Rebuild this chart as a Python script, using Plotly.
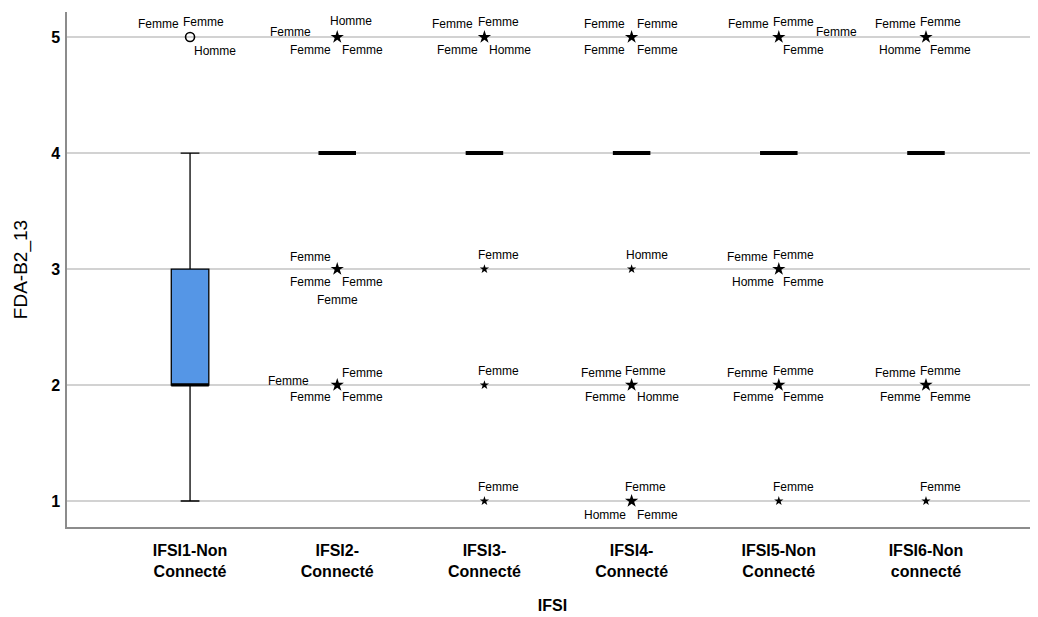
import plotly.graph_objects as go

# groups on the x axis
categories = ["IFSI1-Non<br>Connecté", "IFSI2-<br>Connecté", "IFSI3-<br>Connecté",
              "IFSI4-<br>Connecté", "IFSI5-Non<br>Connecté", "IFSI6-Non<br>connecté"]

# box statistics per group
q1 = [2, 4, 4, 4, 4, 4]
median = [2, 4, 4, 4, 4, 4]
q3 = [3, 4, 4, 4, 4, 4]
lower = [1, 4, 4, 4, 4, 4]
upper = [4, 4, 4, 4, 4, 4]

# outliers (group index, value, number of cases)
out_group = [0, 1, 2, 3, 4, 5, 1, 2, 3, 4, 1, 2, 3, 4, 5, 2, 3, 4, 5]
out_value = [5, 5, 5, 5, 5, 5, 3, 3, 3, 3, 2, 2, 2, 2, 2, 1, 1, 1, 1]
out_n = [3, 4, 4, 4, 4, 4, 4, 1, 1, 4, 4, 1, 4, 4, 4, 1, 3, 1, 1]
out_extreme = [False] + [True] * 18

# case labels next to the outliers
lab_group = [0, 0, 0,
             1, 1, 1, 1,
             2, 2, 2, 2,
             3, 3, 3, 3,
             4, 4, 4, 4,
             5, 5, 5, 5,
             1, 1, 1, 1, 2, 3, 4, 4, 4, 4,
             1, 1, 1, 1, 2, 3, 3, 3, 3, 4, 4, 4, 4, 5, 5, 5, 5,
             2, 3, 3, 3, 4, 5]
lab_value = [5, 5, 5,
             5, 5, 5, 5,
             5, 5, 5, 5,
             5, 5, 5, 5,
             5, 5, 5, 5,
             5, 5, 5, 5,
             3, 3, 3, 3, 3, 3, 3, 3, 3, 3,
             2, 2, 2, 2, 2, 2, 2, 2, 2, 2, 2, 2, 2, 2, 2, 2, 2,
             1, 1, 1, 1, 1, 1]
lab_text = ["Femme", "Femme", "Homme",
            "Homme", "Femme", "Femme", "Femme",
            "Femme", "Femme", "Femme", "Homme",
            "Femme", "Femme", "Femme", "Femme",
            "Femme", "Femme", "Femme", "Femme",
            "Femme", "Femme", "Homme", "Femme",
            "Femme", "Femme", "Femme", "Femme", "Femme", "Homme", "Femme", "Femme", "Homme", "Femme",
            "Femme", "Femme", "Femme", "Femme", "Femme",
            "Femme", "Femme", "Femme", "Homme",
            "Femme", "Femme", "Femme", "Femme",
            "Femme", "Femme", "Femme", "Femme",
            "Femme", "Femme", "Homme", "Femme", "Femme", "Femme"]

# pixel offsets of each label centre from its point
lab_dx = [-32, 13, 25,
          14, -47, -27, 25,
          -32, 14, -27, 26,
          -27, 26, -27, 26,
          -30, 15, 58, 25,
          -30, 15, -26, 25,
          -27, -27, 25, 0, 14, 15, -31, 15, -26, 25,
          -49, 25, -27, 25, 14, -30, 14, -26, 26, -31, 15, -25, 25, -30, 15, -25, 25,
          14, 14, -27, 26, 15, 15]
lab_dy = [-13, -15, 14,
          -16, -5, 13, 13,
          -13, -15, 13, 13,
          -13, -13, 13, 13,
          -13, -15, -5, 13,
          -13, -15, 13, 13,
          -12, 13, 13, 31, -14, -14, -12, -14, 13, 13,
          -4, -12, 12, 12, -14, -12, -14, 12, 12, -12, -14, 12, 12, -12, -14, 12, 12,
          -14, -14, 14, 14, -14, -14]

fig = go.Figure()

for i, cat in enumerate(categories):
    flat = q1[i] == q3[i]
    fig.add_trace(go.Box(x=[cat], q1=[q1[i]], median=[median[i]], q3=[q3[i]],
                         lowerfence=[lower[i]], upperfence=[upper[i]],
                         width=0.255, whiskerwidth=0.5, boxpoints=False,
                         fillcolor="#5596E6" if not flat else "black",
                         line=dict(color="black", width=4 if flat else 1.3),
                         hoverinfo="skip", showlegend=False))
    # thick median line on the non flat box
    if not flat:
        fig.add_trace(go.Box(x=[cat], q1=[median[i]], median=[median[i]], q3=[median[i]],
                             lowerfence=[median[i]], upperfence=[median[i]],
                             width=0.255, boxpoints=False, fillcolor="black",
                             line=dict(color="black", width=3),
                             hoverinfo="skip", showlegend=False))

# outlier markers
for g, v, n, ext in zip(out_group, out_value, out_n, out_extreme):
    if ext:
        marker = dict(symbol="star", size=10 if n > 1 else 7, color="black",
                      line=dict(width=0))
    else:
        marker = dict(symbol="circle-open", size=9, color="black",
                      line=dict(width=1.6, color="black"))
    fig.add_trace(go.Scatter(x=[categories[g]], y=[v], mode="markers",
                             marker=marker, showlegend=False, hoverinfo="skip"))

for g, v, t, dx, dy in zip(lab_group, lab_value, lab_text, lab_dx, lab_dy):
    fig.add_annotation(x=categories[g], y=v, text=t, showarrow=False,
                       xshift=dx, yshift=-dy,
                       font=dict(family="Liberation Sans, Arial", size=12, color="black"))

# the page adds an 8px body margin, so the figure is sized to fit inside it
fig.update_layout(
    width=1030, height=609,
    margin=dict(l=59, r=0, t=4, b=90),
    plot_bgcolor="white", paper_bgcolor="white",
    font=dict(family="Liberation Sans, Arial", color="black"),
    boxmode="overlay",
)
fig.update_xaxes(type="category", categoryorder="array", categoryarray=categories,
                 range=[-0.836, 5.761], showgrid=False, zeroline=False, automargin=False,
                 showline=True, linecolor="#8c8c8c", linewidth=1.5, ticks="",
                 ticklabelstandoff=8,
                 tickfont=dict(size=16, weight="bold", color="black"),
                 title=dict(text="IFSI", standoff=21,
                            font=dict(size=16, weight="bold", color="black")))
fig.update_yaxes(range=[0.776, 5.216], tickvals=[1, 2, 3, 4, 5],
                 showgrid=True, gridcolor="#d2d2d2", gridwidth=1.5, zeroline=False,
                 automargin=False,
                 showline=True, linecolor="#8c8c8c", linewidth=1.5, ticks="",
                 ticklabelstandoff=2,
                 tickfont=dict(size=16, weight="bold", color="black"),
                 title=dict(text="FDA-B2_13", standoff=18,
                            font=dict(size=19, color="black")))

fig.write_html("out.html")
